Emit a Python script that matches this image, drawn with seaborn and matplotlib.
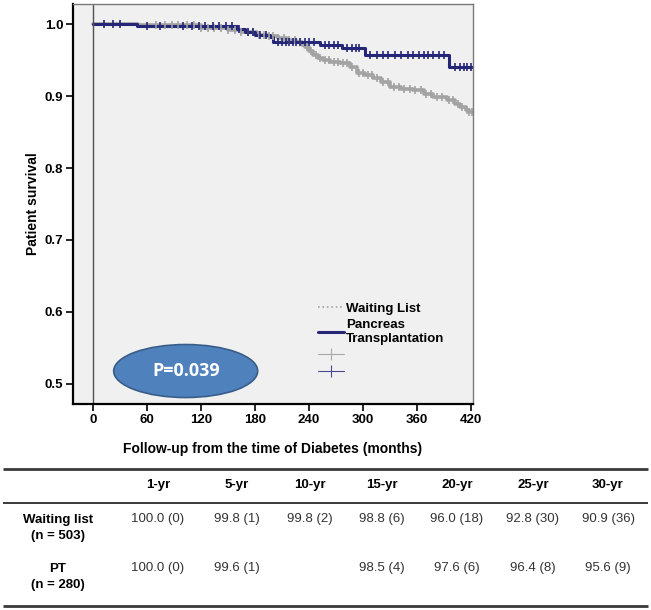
import numpy as np
import pandas as pd
import matplotlib
matplotlib.use("Agg")
import matplotlib.pyplot as plt
from matplotlib.lines import Line2D
from matplotlib.patches import Ellipse
import seaborn as sns

# survival steps (months, survival after the step)
wl_time = [0, 50, 120, 150, 165, 182, 195, 205, 215, 225, 232, 236, 240, 244, 250, 256, 263,
           274, 285, 293, 302, 311, 320, 330, 342, 356, 368, 378, 393, 402, 408, 414, 418, 422]
wl_surv = [1.0, 0.998, 0.994, 0.992, 0.989, 0.985, 0.983, 0.981, 0.978, 0.975, 0.971, 0.968, 0.962,
           0.957, 0.953, 0.950, 0.947, 0.946, 0.940, 0.932, 0.929, 0.925, 0.919, 0.913, 0.910, 0.908,
           0.903, 0.899, 0.894, 0.889, 0.885, 0.881, 0.878, 0.878]
pt_time = [0, 49, 160, 169, 180, 197, 200, 252, 277, 302, 395, 422]
pt_surv = [1.0, 0.997, 0.993, 0.989, 0.985, 0.982, 0.975, 0.971, 0.967, 0.957, 0.940, 0.940]

# censored observations (months)
wl_cens = [70, 80, 88, 95, 105, 112, 120, 128, 135, 142, 150, 158, 165, 172, 178, 185, 190, 196,
           200, 206, 212, 218, 224, 230, 238, 242, 248, 252, 258, 262, 268, 272, 278, 282, 288, 296,
           300, 305, 310, 316, 322, 328, 334, 340, 346, 352, 358, 364, 370, 376, 382, 388, 395, 400,
           405, 410, 415, 418, 421]
pt_cens = [12, 22, 30, 60, 75, 100, 110, 118, 125, 133, 140, 148, 155, 162, 172, 178, 186, 192,
           205, 210, 214, 218, 222, 226, 230, 235, 240, 246, 258, 262, 268, 272, 282, 288, 292, 296,
           308, 315, 322, 328, 335, 342, 350, 356, 362, 368, 372, 378, 384, 390, 402, 408, 412, 416, 420]

groups = ["Waiting List", "Pancreas\nTransplantation"]
colors = {"Waiting List": "#a3a3a3", "Pancreas\nTransplantation": "#262678"}

# table below the chart
col_labels = ["1-yr", "5-yr", "10-yr", "15-yr", "20-yr", "25-yr", "30-yr"]
row_labels = ["Waiting list\n(n = 503)", "PT\n(n = 280)"]
wl_row = ["100.0 (0)", "99.8 (1)", "99.8 (2)", "98.8 (6)", "96.0 (18)", "92.8 (30)", "90.9 (36)"]
pt_row = ["100.0 (0)", "99.6 (1)", "", "98.5 (4)", "97.6 (6)", "96.4 (8)", "95.6 (9)"]

sns.set_theme(style="white")
plt.rcParams["font.family"] = ["Liberation Sans", "DejaVu Sans"]
plt.rcParams["text.color"] = "black"
plt.rcParams["axes.labelcolor"] = "black"

df = pd.concat([
    pd.DataFrame({"time": wl_time, "surv": wl_surv, "group": groups[0]}),
    pd.DataFrame({"time": pt_time, "surv": pt_surv, "group": groups[1]}),
])

fig = plt.figure(figsize=(6.51, 6.10), dpi=100)
ax = fig.add_axes([73 / 651, 1 - 404 / 610, 400 / 651, 400 / 610])
ax.set_facecolor("#f0f0f0")

sns.lineplot(data=df, x="time", y="surv", hue="group", palette=colors, estimator=None,
             sort=False, drawstyle="steps-post", linewidth=2.2, legend=False, ax=ax)
ax.lines[0].set_linewidth(2.6)

# censor ticks on each curve
for t, s, c, g in [(wl_time, wl_surv, wl_cens, groups[0]), (pt_time, pt_surv, pt_cens, groups[1])]:
    idx = np.searchsorted(t, c, side="right") - 1
    ax.plot(c, np.array(s)[idx], linestyle="none", marker="|", markersize=6,
            markeredgewidth=1.2, color=colors[g])

ax.axvline(0, color="#505050", lw=1)
ax.set_xlim(-22.2, 422.2)
ax.set_ylim(0.4722, 1.0278)
ax.set_xticks(range(0, 421, 60))
ax.set_yticks([0.5, 0.6, 0.7, 0.8, 0.9, 1.0])
ax.set_yticklabels(["0.5", "0.6", "0.7", "0.8", "0.9", "1.0"])
ax.tick_params(axis="both", which="major", direction="out", length=5, width=1.2,
               labelsize=9.5, colors="black", left=True, bottom=True, pad=2)
for lab in ax.get_xticklabels() + ax.get_yticklabels():
    lab.set_fontweight("bold")
ax.set_xlabel("Follow-up from the time of Diabetes (months)", fontsize=10, fontweight="bold",
              labelpad=12)
ax.set_ylabel("Patient survival", fontsize=10, fontweight="bold", labelpad=3)
for side in ["left", "bottom"]:
    ax.spines[side].set_color("black")
    ax.spines[side].set_linewidth(1.6)
for side in ["top", "right"]:
    ax.spines[side].set_color("#7a7a7a")
    ax.spines[side].set_linewidth(1.0)

# legend
handles = [
    Line2D([], [], color=colors[groups[0]], lw=1.2, linestyle=":"),
    Line2D([], [], color=colors[groups[1]], lw=2.2, drawstyle="steps-mid"),
    Line2D([], [], color="#a8a8a8", lw=0.8, marker="|", markersize=9, markeredgewidth=0.8),
    Line2D([], [], color="#4a4a90", lw=0.8, marker="|", markersize=9, markeredgewidth=0.8),
]
ax.legend(handles, groups + ["", ""], loc="upper left", bbox_to_anchor=(0.595, 0.27),
          frameon=False, handlelength=2.0, handletextpad=0.15, labelspacing=0.33,
          prop={"weight": "bold", "size": 9.5}, borderpad=0)

# p-value bubble
ax.add_patch(Ellipse((103, 0.518), 160, 0.0736, facecolor="#4f81bd", edgecolor="#385d8a",
                     lw=1.2, zorder=5))
ax.text(103, 0.518, "P=0.039", color="white", fontsize=13, fontweight="bold",
        ha="center", va="center", zorder=6, family=["Open Sans", "DejaVu Sans"])

# table
tb = fig.add_axes([0, 0, 1, 1])
tb.set_xlim(0, 651)
tb.set_ylim(610, 0)
tb.axis("off")
tb.hlines([469, 606], 3, 648, color="#3a3a3a", lw=2)
tb.hlines(503, 3, 648, color="#3a3a3a", lw=1.4)
col_x = [158, 237, 310, 382, 457, 533, 608]
for x, lab in zip(col_x, col_labels):
    tb.text(x, 485, lab, ha="center", va="center", fontsize=9.5, fontweight="bold")
for y, lab, vals in [(528, row_labels[0], wl_row), (577, row_labels[1], pt_row)]:
    tb.text(58, y, lab, ha="center", va="center", fontsize=9.5, fontweight="bold",
            linespacing=1.45)
    for x, v in zip(col_x, vals):
        tb.text(x, y - 9, v, ha="center", va="center", fontsize=9.5, color="#333333")

fig.savefig("out.png", dpi=100)
